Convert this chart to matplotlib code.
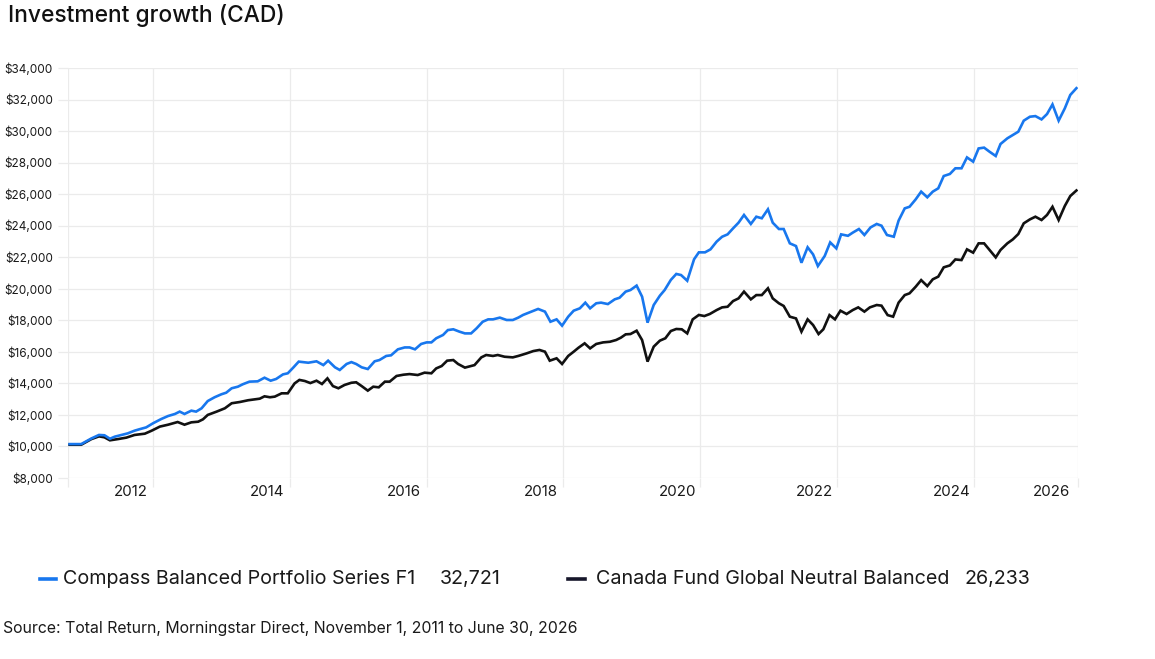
import matplotlib
matplotlib.use("Agg")
import matplotlib.pyplot as plt
from matplotlib.lines import Line2D
import matplotlib.transforms as mtransforms

plt.rcParams['font.family'] = ['Inter', 'DejaVu Sans']

# ---------------- data ----------------
title = "Investment growth (CAD)"
source = "Source: Total Return, Morningstar Direct, November 1, 2011 to June 30, 2026"
series_names = ["Compass Balanced Portfolio Series F1", "Canada Fund Global Neutral Balanced"]
series_final = ["32,721", "26,233"]
series_colors = ["#1877ee", "#111111"]
legend_marker_colors = ["#1877ee", "#16162a"]

dates_blue = [2011.78, 2011.95, 2012.10, 2012.21, 2012.29, 2012.37, 2012.44, 2012.54, 2012.63, 2012.73,
              2012.80, 2012.90, 2013.00, 2013.12, 2013.22, 2013.32, 2013.39, 2013.46, 2013.56, 2013.63,
              2013.71, 2013.80, 2013.90, 2014.00, 2014.07, 2014.15, 2014.24, 2014.31, 2014.41, 2014.53,
              2014.63, 2014.72, 2014.80, 2014.90, 2014.97, 2015.05, 2015.13, 2015.27, 2015.39,
              2015.49, 2015.56, 2015.66, 2015.73, 2015.83, 2015.90, 2015.97, 2016.05, 2016.14, 2016.24,
              2016.31, 2016.41, 2016.48, 2016.58, 2016.68, 2016.75, 2016.83, 2016.92, 2017.00, 2017.07,
              2017.14, 2017.24, 2017.31, 2017.39, 2017.48, 2017.56, 2017.65, 2017.73, 2017.82, 2017.90,
              2017.97, 2018.07, 2018.17, 2018.26, 2018.34, 2018.41, 2018.53, 2018.63, 2018.73, 2018.81,
              2018.90, 2018.98,
              2019.07, 2019.15, 2019.24, 2019.32, 2019.39, 2019.48, 2019.55, 2019.65, 2019.75, 2019.82,
              2019.91, 2019.98, 2020.07, 2020.15, 2020.23, 2020.32, 2020.41, 2020.48, 2020.57, 2020.65,
              2020.72, 2020.81, 2020.91, 2020.98, 2021.07, 2021.15, 2021.24, 2021.32, 2021.40, 2021.48,
              2021.56, 2021.64, 2021.74, 2021.82, 2021.90, 2021.99, 2022.06, 2022.15, 2022.22, 2022.31,
              2022.40, 2022.48, 2022.57, 2022.65,
              2022.72, 2022.82, 2022.90, 2022.99, 2023.06, 2023.16, 2023.23, 2023.32, 2023.40, 2023.49,
              2023.58, 2023.65, 2023.73, 2023.83, 2023.90, 2023.99, 2024.06, 2024.15, 2024.23, 2024.32,
              2024.40, 2024.48, 2024.56, 2024.65, 2024.73, 2024.82, 2024.90, 2024.99, 2025.07, 2025.15,
              2025.23, 2025.32, 2025.39, 2025.49, 2025.57, 2025.65, 2025.73, 2025.82, 2025.90, 2025.99,
              2026.07, 2026.15, 2026.24, 2026.33, 2026.41, 2026.50]
values_blue = [10150, 10150, 10510, 10730, 10710, 10490, 10620, 10730, 10830, 11000,
               11090, 11210, 11470, 11740, 11930, 12060, 12210, 12060, 12270, 12210,
               12420, 12880, 13120, 13310, 13410, 13690, 13790, 13940, 14110, 14130,
               14360, 14170, 14280, 14570, 14640, 15000, 15380, 15310, 15400,
               15160, 15440, 15020, 14850, 15230, 15350, 15230, 15020, 14910, 15400,
               15480, 15740, 15780, 16160, 16280, 16280, 16160, 16500, 16600, 16600,
               16860, 17070, 17380, 17430, 17280, 17170, 17170, 17490, 17910, 18060,
               18060, 18170, 18020, 18020, 18170, 18340, 18550, 18720, 18550, 17910,
               18060, 17660,
               18230, 18610, 18760, 19120, 18760, 19080, 19120, 19030, 19330, 19430,
               19820, 19920, 20200, 19500, 17850, 18970, 19560, 19920, 20560, 20940,
               20870, 20510, 21870, 22310, 22310, 22500, 22990, 23300, 23450, 23830,
               24190, 24680, 24110, 24570, 24470, 25040, 24190, 23790, 23790, 22880,
               22710, 21650, 22630, 22180,
               21440, 22080, 22940, 22560, 23450, 23360, 23560, 23790, 23410, 23890,
               24110, 24000, 23410, 23300, 24320, 25100, 25200, 25670, 26160, 25800,
               26160, 26370, 27150, 27280, 27640, 27640, 28330, 28060, 28900, 28950,
               28690, 28420, 29180, 29540, 29750, 29960, 30660, 30910, 30950, 30740,
               31080, 31690, 30660, 31440, 32290, 32721]

dates_black = [2011.78, 2011.95, 2012.10, 2012.21, 2012.29, 2012.37, 2012.49, 2012.61, 2012.73, 2012.88,
               2012.98, 2013.10, 2013.22, 2013.36, 2013.46, 2013.56, 2013.66, 2013.73, 2013.80, 2013.93,
               2014.05, 2014.15, 2014.27, 2014.39, 2014.49, 2014.56, 2014.63, 2014.71, 2014.78, 2014.88,
               2014.97, 2015.07, 2015.14, 2015.22, 2015.30, 2015.39,
               2015.47, 2015.55, 2015.63, 2015.71, 2015.80, 2015.90, 2015.97, 2016.05, 2016.14, 2016.22,
               2016.30, 2016.39, 2016.46, 2016.56, 2016.66, 2016.75, 2016.87, 2016.97, 2017.07, 2017.14,
               2017.22, 2017.30, 2017.39, 2017.46, 2017.56, 2017.70, 2017.80, 2017.87, 2017.97, 2018.04,
               2018.14, 2018.26, 2018.34, 2018.46, 2018.56, 2018.65, 2018.73, 2018.80, 2018.90, 2018.98,
               2019.07, 2019.15, 2019.22, 2019.31, 2019.39, 2019.48, 2019.58, 2019.68, 2019.77, 2019.84,
               2019.91, 2019.98, 2020.07, 2020.15, 2020.23, 2020.32, 2020.41, 2020.49, 2020.57, 2020.65,
               2020.73, 2020.81, 2020.89, 2020.98, 2021.06, 2021.14, 2021.24, 2021.32, 2021.40, 2021.48,
               2021.56, 2021.64, 2021.74, 2021.82, 2021.90, 2021.99, 2022.06, 2022.15, 2022.22, 2022.31,
               2022.40, 2022.48, 2022.57, 2022.65, 2022.73, 2022.80,
               2022.89, 2022.97, 2023.05, 2023.14, 2023.23, 2023.31, 2023.40, 2023.48, 2023.58, 2023.65,
               2023.74, 2023.82, 2023.90, 2023.99, 2024.06, 2024.15, 2024.23, 2024.32, 2024.40, 2024.48,
               2024.56, 2024.65, 2024.73, 2024.82, 2024.90, 2024.99, 2025.07, 2025.15, 2025.23, 2025.32,
               2025.39, 2025.49, 2025.57, 2025.65, 2025.73, 2025.82, 2025.90, 2025.99, 2026.07, 2026.15,
               2026.24, 2026.33, 2026.41, 2026.50]
values_black = [10110, 10110, 10470, 10640, 10580, 10390, 10470, 10560, 10730, 10810,
                11000, 11260, 11380, 11550, 11380, 11530, 11570, 11720, 12000, 12210,
                12420, 12740, 12820, 12930, 12990, 13030, 13180, 13120, 13160, 13370,
                13370, 14000, 14220, 14150, 14020, 14170,
                13960, 14320, 13830, 13690, 13900, 14040, 14070, 13830, 13540, 13790,
                13750, 14110, 14110, 14470, 14550, 14590, 14530, 14680, 14640, 14950,
                15100, 15440, 15480, 15230, 15000, 15160, 15650, 15800, 15740, 15800,
                15690, 15650, 15740, 15900, 16050, 16120, 16010, 15440, 15590, 15230,
                15740, 16010, 16260, 16540, 16220, 16500, 16600, 16640, 16750, 16900,
                17110, 17130, 17340, 16750, 15380, 16330, 16710, 16860, 17320, 17450,
                17430, 17170, 18060, 18340, 18270, 18400, 18650, 18820, 18860, 19220,
                19390, 19820, 19330, 19600, 19600, 20030, 19390, 19080, 18910, 18230,
                18120, 17280, 18060, 17700, 17130, 17430,
                18330, 18060, 18610, 18400, 18650, 18820, 18550, 18820, 18970, 18930,
                18330, 18230, 19120, 19600, 19710, 20130, 20550, 20170, 20600, 20770,
                21360, 21480, 21860, 21820, 22500, 22290, 22880, 22880, 22460, 21990,
                22460, 22880, 23130, 23470, 24150, 24400, 24570, 24360, 24680, 25200,
                24360, 25250, 25880, 26233]

y_ticks = list(range(8000, 34001, 2000))
x_label_years = [2012, 2014, 2016, 2018, 2020, 2022, 2024, 2026]
x_grid_years = [2013, 2015, 2017, 2019, 2021, 2023, 2025]

# ---------------- figure ----------------
W, H = 1155, 659
fig = plt.figure(figsize=(W / 100, H / 100), dpi=100)
ax = fig.add_axes([68 / W, 1 - 478 / H, 1010 / W, 410 / H])

x0, x1 = 2011.757, 2026.523
ax.set_xlim(x0, x1)
ax.set_ylim(8000, 34000)

grid_c = "#ebebeb"
for s in ax.spines.values():
    s.set_visible(False)

ax.set_yticks(y_ticks)
ax.set_yticklabels([f"${v:,}" for v in y_ticks])
ax.set_xticks([x0] + x_grid_years + [x1])
ax.set_xticklabels([])
ax.grid(True, color=grid_c, linewidth=0.9, zorder=0)
ax.tick_params(axis='y', length=7.5, width=0.9, color=grid_c, pad=3.5,
               labelsize=8.5, labelcolor="#1a1a1a")
ax.tick_params(axis='x', length=6.5, width=0.9, color=grid_c)
ax.set_axisbelow(True)

ax.plot(dates_black, values_black, color=series_colors[1], lw=1.9, solid_joinstyle='miter', zorder=3)
ax.plot(dates_blue, values_blue, color=series_colors[0], lw=1.9, solid_joinstyle='miter', zorder=4)

# x labels (sit to the left of the gridlines)
trans = mtransforms.blended_transform_factory(ax.transData, fig.transFigure)
for yr in x_label_years:
    xc = min(yr + 0.67, 2026.14)
    ax.text(xc, 1 - 492 / H, str(yr), transform=trans, ha='center', va='center',
            fontsize=10.8, color="#1a1a1a")

# title
fig.text(8 / W, 1 - 22 / H, title, fontsize=16.4, fontweight='medium', ha='left',
         va='baseline', color="#111111")

# legend
leg_dash_x = [(40, 56), (568, 585)]
leg_text_x = [63, 596]
leg_val_x = [440, 965]
ly = 1 - 579 / H
for i in range(2):
    a, b = leg_dash_x[i]
    fig.add_artist(Line2D([a / W, b / W], [ly, ly], color=legend_marker_colors[i], lw=2.6,
                          transform=fig.transFigure))
    fig.text(leg_text_x[i] / W, ly, series_names[i], fontsize=14.2, ha='left', va='center',
             color="#1a1a1a")
    fig.text(leg_val_x[i] / W, ly, series_final[i], fontsize=14.2, ha='left', va='center',
             color="#1a1a1a")

# source
fig.text(3 / W, 1 - 629 / H, source, fontsize=11.4, ha='left', va='center', color="#1a1a1a")

fig.savefig("out.png", dpi=100)
